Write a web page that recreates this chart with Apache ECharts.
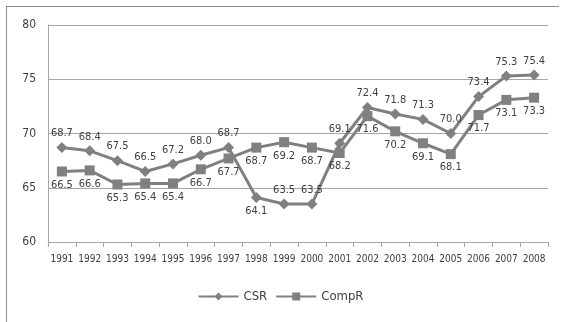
<!DOCTYPE html>
<html>
<head>
<meta charset="utf-8">
<script src="https://cdn.jsdelivr.net/npm/echarts@6/dist/echarts.min.js"></script>
<style>
  html, body { margin: 0; padding: 0; background: #fff; }
  #frame { position: absolute; left: 6px; top: 6px; width: 553px; height: 320px; border: 1px solid #8c8c8c; border-bottom: none; border-right: none; box-sizing: border-box; }
  #chart { width: 561px; height: 322px; }
</style>
</head>
<body>
<div id="frame"></div>
<div id="chart"></div>
<script>
var years = ['1991','1992','1993','1994','1995','1996','1997','1998','1999','2000','2001','2002','2003','2004','2005','2006','2007','2008'];
var csr = [68.7, 68.4, 67.5, 66.5, 67.2, 68.0, 68.7, 64.1, 63.5, 63.5, 69.1, 72.4, 71.8, 71.3, 70.0, 73.4, 75.3, 75.4];
var compR = [66.5, 66.6, 65.3, 65.4, 65.4, 66.7, 67.7, 68.7, 69.2, 68.7, 68.2, 71.6, 70.2, 69.1, 68.1, 71.7, 73.1, 73.3];

var font = "'DejaVu Sans Condensed', 'Liberation Sans Narrow', 'Liberation Sans', sans-serif";
var lineColor = '#808080';

var myChart = echarts.init(document.getElementById('chart'));

// CSR 1998 label sits below the point
var csrData = csr.map(function(v, i){
	if (years[i] === '1998') return {value: v, label: {position: 'bottom'}};
	return v;
});

function fmt(p){
	return Number(p.value).toFixed(1);
}

myChart.setOption({
	animation: false,
	grid: {left: 48, right: 13, top: 25, bottom: 80},
	legend: {
		bottom: 14,
		left: 'center',
		itemWidth: 40,
		itemHeight: 10,
		itemGap: 8,
		textStyle: {fontFamily: font, fontSize: 13, color: '#404040'},
		data: ['CSR', 'CompR']
	},
	xAxis: {
		type: 'category',
		boundaryGap: true,
		data: years,
		axisLine: {lineStyle: {color: '#a6a6a6'}},
		axisTick: {show: true, length: 5, lineStyle: {color: '#a6a6a6'}},
		axisLabel: {fontFamily: font, fontSize: 10, color: '#404040', margin: 12, interval: 0}
	},
	yAxis: {
		type: 'value',
		min: 60,
		max: 80,
		interval: 5,
		axisLine: {show: true, lineStyle: {color: '#a6a6a6'}},
		axisTick: {show: false},
		splitLine: {lineStyle: {color: '#a6a6a6'}},
		axisLabel: {fontFamily: font, fontSize: 12, color: '#404040', margin: 12}
	},
	series: [{
		name: 'CSR',
		type: 'line',
		data: csrData,
		symbol: 'diamond',
		symbolSize: 11,
		lineStyle: {width: 3, color: lineColor},
		itemStyle: {color: lineColor},
		label: {show: true, position: 'top', distance: 3, formatter: fmt, fontFamily: font, fontSize: 11, color: '#404040'}
	}, {
		name: 'CompR',
		type: 'line',
		data: compR,
		symbol: 'rect',
		symbolSize: 10,
		lineStyle: {width: 3, color: lineColor},
		itemStyle: {color: lineColor},
		label: {show: true, position: 'bottom', distance: 3, formatter: fmt, fontFamily: font, fontSize: 11, color: '#404040'}
	}]
});
</script>
</body>
</html>
